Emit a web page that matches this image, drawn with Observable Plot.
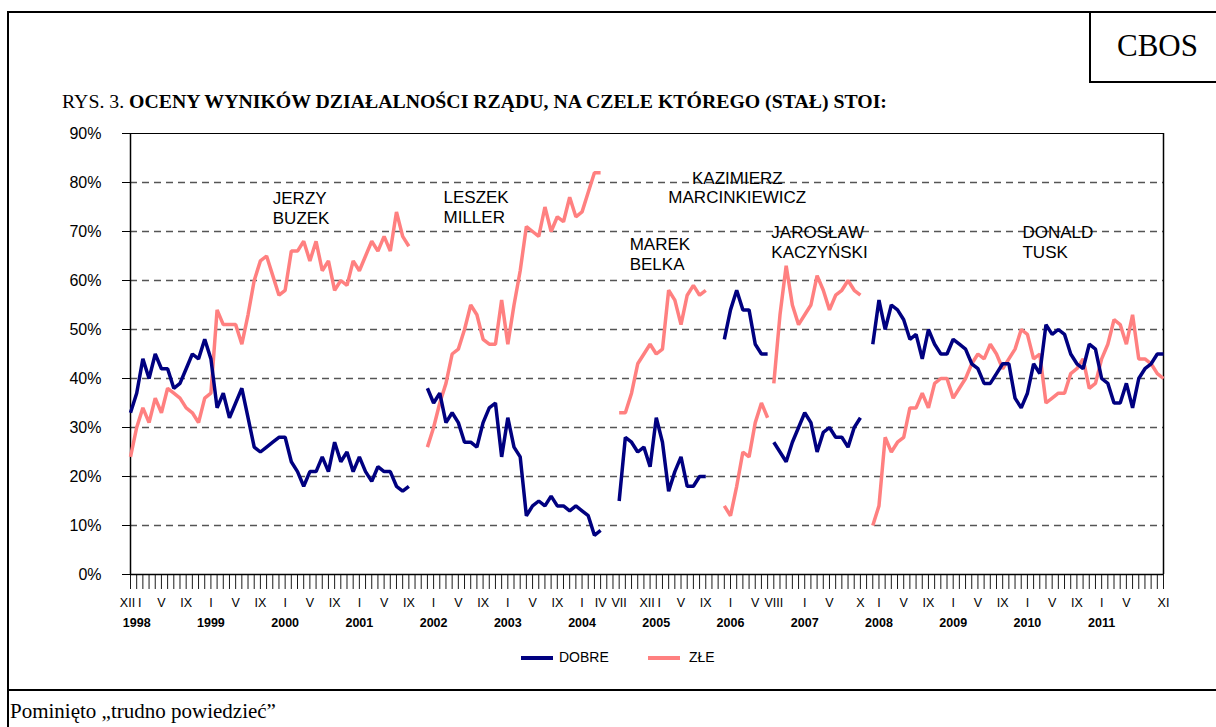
<!DOCTYPE html>
<html>
<head>
<meta charset="utf-8">
<script src="https://cdn.jsdelivr.net/npm/d3@7"></script>
<script src="https://cdn.jsdelivr.net/npm/@observablehq/plot@0.6"></script>
<style>
  html, body { margin: 0; padding: 0; background: #fff; }
  #page { position: relative; width: 1216px; height: 727px; overflow: hidden; background: #fff; }
  #chart { position: absolute; left: 0; top: 0; }
  .frame { position: absolute; border: 2px solid #000; box-sizing: border-box; }
  .serif { font-family: "Liberation Serif", "Times New Roman", serif; color: #000; }
</style>
</head>
<body>
<div id="page">
  <div class="frame" style="left:7px;top:11px;width:1220px;height:680px;"></div>
  <div class="frame" style="left:7px;top:689px;width:1220px;height:50px;border-right:none;border-bottom:none;"></div>
  <div class="frame serif" style="left:1089px;top:11px;width:140px;height:72px;display:flex;align-items:center;padding-left:26px;padding-bottom:2px;font-size:31px;">CBOS</div>
  <div class="serif" style="position:absolute;left:62px;top:92px;font-size:19.8px;line-height:1;white-space:nowrap;">RYS. 3. <b>OCENY WYNIKÓW DZIAŁALNOŚCI RZĄDU, NA CZELE KTÓREGO (STAŁ) STOI:</b></div>
  <div id="chart"></div>
  <div id="legend" style="position:absolute;left:0;top:648px;width:1216px;height:20px;font-family:'Liberation Sans',Arial,sans-serif;font-size:14px;">
    <div style="position:absolute;left:521px;top:8px;width:32px;height:4px;background:#000080;"></div>
    <div style="position:absolute;left:559px;top:1px;">DOBRE</div>
    <div style="position:absolute;left:648px;top:8px;width:32px;height:4px;background:#ff8080;"></div>
    <div style="position:absolute;left:689px;top:1px;">ZŁE</div>
  </div>
  <div class="serif" style="position:absolute;left:10px;top:701px;font-size:21px;line-height:1;white-space:nowrap;">Pominięto „trudno powiedzieć”</div>
</div>
<script>
// Month index 0 = XII 1997 ... 167 = XI 2011
const dobre = [
  33,37,44,40,45,42,42,38,39,42,45,44,48,44,34,37,32,35,38,32,26,25,26,27,28,28,23,21,18,21,21,24,21,27,23,25,21,24,21,19,22,21,21,18,17,18,
  null,null,
  38,35,37,31,33,31,27,27,26,31,34,35,24,32,26,24,12,14,15,14,16,14,14,13,14,13,12,8,9,
  null,null,
  15,28,27,25,26,22,32,27,17,21,24,18,18,20,20,
  null,null,
  48,54,58,54,54,47,45,45,
  27,25,23,27,30,33,31,25,29,30,28,28,26,30,32,
  null,
  47,56,50,55,54,52,48,49,44,50,47,45,45,48,47,46,43,42,39,39,41,43,43,36,34,37,43,41,51,49,50,49,45,43,42,47,46,40,39,35,35,39,34,40,42,43,45,45
];
const zle = [
  24,30,34,31,36,33,38,37,36,34,33,31,36,37,54,51,51,51,47,53,60,64,65,61,57,58,66,66,68,64,68,62,64,58,60,59,64,62,65,68,66,69,66,74,69,67,
  null,null,
  26,30,35,39,45,46,50,55,53,48,47,47,56,47,55,62,71,70,69,75,70,73,72,77,73,74,78,82,82,
  null,null,
  33,33,37,43,45,47,45,46,58,56,51,57,59,57,58,
  null,null,
  14,12,18,25,24,31,35,32,
  39,53,63,55,51,53,55,61,58,54,57,58,60,58,57,
  null,
  10,14,28,25,27,28,34,34,37,34,39,40,40,36,38,40,43,45,44,47,45,42,44,46,50,49,44,45,35,36,37,37,41,42,44,38,39,44,47,52,51,47,53,44,44,43,41,40
];
// first month index of each government's series (Buzek, Miller, Belka, Marcinkiewicz, Kaczyński, Tusk)
const govStart = [0, 48, 79, 96, 104, 120];
const monthTickIdx = [0,1,5,9,13,17,21,25,29,33,37,41,45,49,53,57,61,65,69,73,76,79,84,85,89,93,97,101,104,109,113,118,121,125,129,133,137,141,145,149,153,157,161,167];
const monthTickLabels = ["XII","I","V","IX","I","V","IX","I","V","IX","I","V","IX","I","V","IX","I","V","IX","I","IV","VII","XII","I","V","IX","I","V","VIII","I","V","X","I","V","IX","I","V","IX","I","V","IX","I","V","XI"];
const yearIdx = [1,13,25,37,49,61,73,85,97,109,121,133,145,157];
const yearLabels = ["1998","1999","2000","2001","2002","2003","2004","2005","2006","2007","2008","2009","2010","2011"];
const govNames = ["JERZY\nBUZEK","LESZEK\nMILLER","MAREK\nBELKA","JAROSŁAW\nKACZYŃSKI","DONALD\nTUSK"];
const govX = [23.0, 50.6, 80.7, 103.6, 144.2];
const govY = [74.8, 75.0, 65.5, 67.9, 67.9];
const centerGovName = ["KAZIMIERZ\nMARCINKIEWICZ"];
const centerGovX = [98.1];
const centerGovY = [79.0];
const yTicks = [0,10,20,30,40,50,60,70,80,90];
const gridTicks = [10,20,30,40,50,60,70,80];

const n = dobre.length;
const segOf = i => d3.bisectRight(govStart, i) - 1;
const data = d3.range(n).map(i => ({i, seg: segOf(i), dobre: dobre[i], zle: zle[i]}));
const monthTicks = monthTickIdx.map((i, k) => ({i, label: monthTickLabels[k]}));
// adjacent "XII" + "I" pairs are nudged apart slightly, as in the original
const isXII = d => d.label === "XII";
const isAfterXII = d => monthTickIdx.includes(d.i - 1) && monthTicks.find(m => m.i === d.i - 1).label === "XII";
const monthA = monthTicks.filter(d => isXII(d));
const monthB = monthTicks.filter(d => isAfterXII(d));
const monthC = monthTicks.filter(d => !isXII(d) && !isAfterXII(d));
const years = yearIdx.map((i, k) => ({i, label: yearLabels[k]}));
const govs = govNames.map((t, k) => ({t, x: govX[k], y: govY[k]}));
const govs2 = centerGovName.map((t, k) => ({t, x: centerGovX[k], y: centerGovY[k]}));

const chart = Plot.plot({
  width: 1216,
  height: 690,
  marginLeft: 130,
  marginRight: 53,
  marginTop: 133,
  marginBottom: 116,
  x: {domain: [0, 167], type: "linear"},
  y: {domain: [0, 90]},
  style: {fontFamily: "'Liberation Sans', Arial, sans-serif", fontSize: "14px", color: "#000", background: "transparent", overflow: "visible"},
  marks: [
    Plot.ruleY(gridTicks, {stroke: "#555", strokeWidth: 1.4, strokeDasharray: "7,5", strokeOpacity: 1}),
    Plot.ruleY([90], {stroke: "#000", strokeWidth: 1}),
    Plot.ruleX([167], {stroke: "#000", strokeWidth: 1.5}),
    Plot.axisY({ticks: yTicks, tickFormat: d => d + "%", tickSize: 8, tickPadding: 21, label: null, fontSize: 16, stroke: "#000", strokeOpacity: 1}),
    Plot.axisX({ticks: d3.range(n), tickFormat: () => "", tickSize: 15, label: null, stroke: "#000", strokeOpacity: 1, strokeWidth: 0.9}),
    Plot.ruleX([0], {stroke: "#000", strokeWidth: 1.5}),
    Plot.ruleY([0], {stroke: "#000", strokeWidth: 1.5}),
    Plot.text(monthA, {x: "i", text: "label", frameAnchor: "bottom", dy: 32, dx: -3, fontSize: 12.5}),
    Plot.text(monthB, {x: "i", text: "label", frameAnchor: "bottom", dy: 32, dx: 3, fontSize: 12.5}),
    Plot.text(monthC, {x: "i", text: "label", frameAnchor: "bottom", dy: 32, fontSize: 12.5}),
    Plot.text(years, {x: "i", text: "label", frameAnchor: "bottom", dy: 52, fontSize: 12.5, fontWeight: "bold"}),
    Plot.lineY(data, {x: "i", y: "zle", z: "seg", stroke: "#ff8080", strokeWidth: 3.5, strokeLinejoin: "miter", strokeLinecap: "butt"}),
    Plot.lineY(data, {x: "i", y: "dobre", z: "seg", stroke: "#000080", strokeWidth: 3.5, strokeLinejoin: "miter", strokeLinecap: "butt"}),
    Plot.text(govs, {x: "x", y: "y", text: "t", textAnchor: "start", lineAnchor: "middle", lineHeight: 1.15, fontSize: 17}),
    Plot.text(govs2, {x: "x", y: "y", text: "t", textAnchor: "middle", lineAnchor: "middle", lineHeight: 1.15, fontSize: 17})
  ]
});
document.getElementById("chart").appendChild(chart);
</script>
</body>
</html>
